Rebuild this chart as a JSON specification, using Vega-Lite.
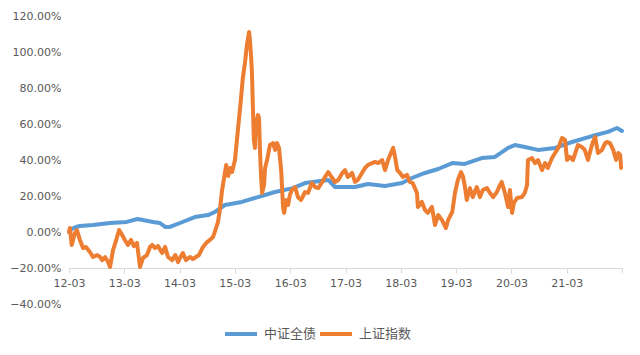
{
  "$schema": "https://vega.github.io/schema/vega-lite/v6.json",
  "width": 553,
  "height": 288,
  "autosize": "none",
  "padding": {"left": 69, "top": 16, "right": 18, "bottom": 51},
  "background": "white",
  "config": {"view": {"stroke": null}},
  "data": {"values": [
    {"s":"中证全债","d":"2012-03-01","v":0},
    {"s":"中证全债","d":"2012-03-19","v":0.017},
    {"s":"中证全债","d":"2012-04-15","v":0.028},
    {"s":"中证全债","d":"2012-05-12","v":0.033},
    {"s":"中证全债","d":"2012-08-07","v":0.039},
    {"s":"中证全债","d":"2012-11-27","v":0.05},
    {"s":"中证全债","d":"2013-03-17","v":0.056},
    {"s":"中证全债","d":"2013-05-28","v":0.072},
    {"s":"中证全债","d":"2013-09-07","v":0.056},
    {"s":"中证全债","d":"2013-10-22","v":0.05},
    {"s":"中证全债","d":"2013-11-26","v":0.028},
    {"s":"中证全债","d":"2013-12-27","v":0.028},
    {"s":"中证全债","d":"2014-03-04","v":0.05},
    {"s":"中证全债","d":"2014-06-10","v":0.083},
    {"s":"中证全债","d":"2014-09-05","v":0.094},
    {"s":"中证全债","d":"2014-10-20","v":0.111},
    {"s":"中证全债","d":"2014-12-25","v":0.15},
    {"s":"中证全债","d":"2015-04-16","v":0.167},
    {"s":"中证全债","d":"2015-08-01","v":0.194},
    {"s":"中证全债","d":"2015-11-21","v":0.222},
    {"s":"中证全债","d":"2016-03-18","v":0.244},
    {"s":"中证全债","d":"2016-06-07","v":0.272},
    {"s":"中证全债","d":"2016-11-07","v":0.289},
    {"s":"中证全债","d":"2016-12-22","v":0.25},
    {"s":"中证全债","d":"2017-05-03","v":0.25},
    {"s":"中证全债","d":"2017-07-27","v":0.267},
    {"s":"中证全债","d":"2017-11-17","v":0.256},
    {"s":"中证全债","d":"2018-03-09","v":0.272},
    {"s":"中证全债","d":"2018-05-13","v":0.3},
    {"s":"中证全债","d":"2018-08-08","v":0.328},
    {"s":"中证全债","d":"2018-11-03","v":0.35},
    {"s":"中证全债","d":"2019-02-04","v":0.383},
    {"s":"中证全债","d":"2019-04-27","v":0.378},
    {"s":"中证全债","d":"2019-08-18","v":0.411},
    {"s":"中证全债","d":"2019-11-13","v":0.417},
    {"s":"中证全债","d":"2020-02-08","v":0.467},
    {"s":"中证全债","d":"2020-03-23","v":0.483},
    {"s":"中证全债","d":"2020-05-28","v":0.472},
    {"s":"中证全债","d":"2020-08-23","v":0.456},
    {"s":"中证全债","d":"2020-12-14","v":0.467},
    {"s":"中证全债","d":"2021-04-05","v":0.5},
    {"s":"中证全债","d":"2021-08-15","v":0.533},
    {"s":"中证全债","d":"2021-11-28","v":0.556},
    {"s":"中证全债","d":"2022-01-27","v":0.578},
    {"s":"中证全债","d":"2022-03-01","v":0.561},
    {"s":"上证指数","d":"2012-03-01","v":0},
    {"s":"上证指数","d":"2012-03-07","v":0.022},
    {"s":"上证指数","d":"2012-03-19","v":-0.072},
    {"s":"上证指数","d":"2012-04-09","v":-0.006},
    {"s":"上证指数","d":"2012-04-22","v":0.011},
    {"s":"上证指数","d":"2012-05-12","v":-0.044},
    {"s":"上证指数","d":"2012-06-02","v":-0.089},
    {"s":"上证指数","d":"2012-06-21","v":-0.083},
    {"s":"上证指数","d":"2012-07-17","v":-0.111},
    {"s":"上证指数","d":"2012-08-07","v":-0.139},
    {"s":"上证指数","d":"2012-09-03","v":-0.128},
    {"s":"上证指数","d":"2012-09-22","v":-0.139},
    {"s":"上证指数","d":"2012-10-06","v":-0.156},
    {"s":"上证指数","d":"2012-10-25","v":-0.139},
    {"s":"上证指数","d":"2012-11-14","v":-0.167},
    {"s":"上证指数","d":"2012-11-27","v":-0.194},
    {"s":"上证指数","d":"2012-12-17","v":-0.1},
    {"s":"上证指数","d":"2013-01-07","v":-0.044},
    {"s":"上证指数","d":"2013-01-26","v":0.011},
    {"s":"上证指数","d":"2013-02-15","v":-0.017},
    {"s":"上证指数","d":"2013-03-05","v":-0.044},
    {"s":"上证指数","d":"2013-03-25","v":-0.072},
    {"s":"上证指数","d":"2013-04-14","v":-0.044},
    {"s":"上证指数","d":"2013-05-04","v":-0.078},
    {"s":"上证指数","d":"2013-05-24","v":-0.061},
    {"s":"上证指数","d":"2013-06-13","v":-0.194},
    {"s":"上证指数","d":"2013-07-03","v":-0.144},
    {"s":"上证指数","d":"2013-07-29","v":-0.128},
    {"s":"上证指数","d":"2013-08-18","v":-0.083},
    {"s":"上证指数","d":"2013-09-01","v":-0.072},
    {"s":"上证指数","d":"2013-09-20","v":-0.089},
    {"s":"上证指数","d":"2013-10-10","v":-0.078},
    {"s":"上证指数","d":"2013-11-06","v":-0.117},
    {"s":"上证指数","d":"2013-11-26","v":-0.083},
    {"s":"上证指数","d":"2013-12-15","v":-0.139},
    {"s":"上证指数","d":"2014-01-11","v":-0.156},
    {"s":"上证指数","d":"2014-02-01","v":-0.128},
    {"s":"上证指数","d":"2014-02-19","v":-0.167},
    {"s":"上证指数","d":"2014-03-04","v":-0.144},
    {"s":"上证指数","d":"2014-03-23","v":-0.117},
    {"s":"上证指数","d":"2014-04-12","v":-0.156},
    {"s":"上证指数","d":"2014-05-09","v":-0.139},
    {"s":"上证指数","d":"2014-05-28","v":-0.15},
    {"s":"上证指数","d":"2014-06-17","v":-0.139},
    {"s":"上证指数","d":"2014-07-07","v":-0.128},
    {"s":"上证指数","d":"2014-08-03","v":-0.083},
    {"s":"上证指数","d":"2014-08-30","v":-0.056},
    {"s":"上证指数","d":"2014-09-18","v":-0.044},
    {"s":"上证指数","d":"2014-10-08","v":-0.028},
    {"s":"上证指数","d":"2014-10-28","v":0.022},
    {"s":"上证指数","d":"2014-11-10","v":0.056},
    {"s":"上证指数","d":"2014-11-24","v":0.133},
    {"s":"上证指数","d":"2014-12-07","v":0.233},
    {"s":"上证指数","d":"2014-12-20","v":0.3},
    {"s":"上证指数","d":"2015-01-03","v":0.372},
    {"s":"上证指数","d":"2015-01-16","v":0.311},
    {"s":"上证指数","d":"2015-01-29","v":0.356},
    {"s":"上证指数","d":"2015-02-11","v":0.333},
    {"s":"上证指数","d":"2015-03-02","v":0.4},
    {"s":"上证指数","d":"2015-03-15","v":0.511},
    {"s":"上证指数","d":"2015-03-28","v":0.622},
    {"s":"上证指数","d":"2015-04-10","v":0.733},
    {"s":"上证指数","d":"2015-04-23","v":0.856},
    {"s":"上证指数","d":"2015-05-07","v":0.939},
    {"s":"上证指数","d":"2015-05-20","v":1.039},
    {"s":"上证指数","d":"2015-06-03","v":1.111},
    {"s":"上证指数","d":"2015-06-09","v":1.067},
    {"s":"上证指数","d":"2015-06-16","v":0.983},
    {"s":"上证指数","d":"2015-06-22","v":0.889},
    {"s":"上证指数","d":"2015-06-29","v":0.678},
    {"s":"上证指数","d":"2015-07-05","v":0.511},
    {"s":"上证指数","d":"2015-07-12","v":0.467},
    {"s":"上证指数","d":"2015-07-18","v":0.594},
    {"s":"上证指数","d":"2015-08-01","v":0.65},
    {"s":"上证指数","d":"2015-08-08","v":0.633},
    {"s":"上证指数","d":"2015-08-14","v":0.456},
    {"s":"上证指数","d":"2015-08-21","v":0.317},
    {"s":"上证指数","d":"2015-08-28","v":0.217},
    {"s":"上证指数","d":"2015-09-10","v":0.261},
    {"s":"上证指数","d":"2015-09-17","v":0.356},
    {"s":"上证指数","d":"2015-09-30","v":0.4},
    {"s":"上证指数","d":"2015-10-19","v":0.483},
    {"s":"上证指数","d":"2015-11-09","v":0.494},
    {"s":"上证指数","d":"2015-11-22","v":0.456},
    {"s":"上证指数","d":"2015-12-05","v":0.494},
    {"s":"上证指数","d":"2015-12-18","v":0.467},
    {"s":"上证指数","d":"2016-01-01","v":0.344},
    {"s":"上证指数","d":"2016-01-14","v":0.133},
    {"s":"上证指数","d":"2016-01-21","v":0.106},
    {"s":"上证指数","d":"2016-02-03","v":0.178},
    {"s":"上证指数","d":"2016-02-16","v":0.15},
    {"s":"上证指数","d":"2016-02-28","v":0.206},
    {"s":"上证指数","d":"2016-03-12","v":0.233},
    {"s":"上证指数","d":"2016-04-02","v":0.25},
    {"s":"上证指数","d":"2016-04-21","v":0.194},
    {"s":"上证指数","d":"2016-05-11","v":0.178},
    {"s":"上证指数","d":"2016-06-07","v":0.222},
    {"s":"上证指数","d":"2016-06-26","v":0.217},
    {"s":"上证指数","d":"2016-07-22","v":0.272},
    {"s":"上证指数","d":"2016-08-12","v":0.25},
    {"s":"上证指数","d":"2016-09-02","v":0.244},
    {"s":"上证指数","d":"2016-09-28","v":0.278},
    {"s":"上证指数","d":"2016-10-17","v":0.306},
    {"s":"上证指数","d":"2016-11-07","v":0.333},
    {"s":"上证指数","d":"2016-12-03","v":0.3},
    {"s":"上证指数","d":"2016-12-22","v":0.278},
    {"s":"上证指数","d":"2017-01-12","v":0.289},
    {"s":"上证指数","d":"2017-02-08","v":0.328},
    {"s":"上证指数","d":"2017-02-26","v":0.344},
    {"s":"上证指数","d":"2017-03-16","v":0.306},
    {"s":"上证指数","d":"2017-04-13","v":0.328},
    {"s":"上证指数","d":"2017-05-03","v":0.278},
    {"s":"上证指数","d":"2017-05-21","v":0.289},
    {"s":"上证指数","d":"2017-06-18","v":0.328},
    {"s":"上证指数","d":"2017-07-08","v":0.356},
    {"s":"上证指数","d":"2017-07-27","v":0.372},
    {"s":"上证指数","d":"2017-08-23","v":0.383},
    {"s":"上证指数","d":"2017-09-12","v":0.389},
    {"s":"上证指数","d":"2017-10-03","v":0.383},
    {"s":"上证指数","d":"2017-10-29","v":0.4},
    {"s":"上证指数","d":"2017-11-17","v":0.344},
    {"s":"上证指数","d":"2017-12-07","v":0.4},
    {"s":"上证指数","d":"2017-12-26","v":0.439},
    {"s":"上证指数","d":"2018-01-10","v":0.467},
    {"s":"上证指数","d":"2018-01-22","v":0.417},
    {"s":"上证指数","d":"2018-02-06","v":0.344},
    {"s":"上证指数","d":"2018-02-24","v":0.328},
    {"s":"上证指数","d":"2018-03-15","v":0.306},
    {"s":"上证指数","d":"2018-04-11","v":0.317},
    {"s":"上证指数","d":"2018-04-30","v":0.278},
    {"s":"上证指数","d":"2018-05-19","v":0.272},
    {"s":"上证指数","d":"2018-06-16","v":0.217},
    {"s":"上证指数","d":"2018-06-22","v":0.139},
    {"s":"上证指数","d":"2018-07-18","v":0.167},
    {"s":"上证指数","d":"2018-08-08","v":0.122},
    {"s":"上证指数","d":"2018-08-27","v":0.106},
    {"s":"上证指数","d":"2018-09-23","v":0.139},
    {"s":"上证指数","d":"2018-10-13","v":0.039},
    {"s":"上证指数","d":"2018-11-03","v":0.094},
    {"s":"上证指数","d":"2018-11-28","v":0.067},
    {"s":"上证指数","d":"2018-12-24","v":0.022},
    {"s":"上证指数","d":"2019-01-08","v":0.067},
    {"s":"上证指数","d":"2019-02-04","v":0.111},
    {"s":"上证指数","d":"2019-02-22","v":0.217},
    {"s":"上证指数","d":"2019-03-13","v":0.289},
    {"s":"上证指数","d":"2019-04-03","v":0.333},
    {"s":"上证指数","d":"2019-04-15","v":0.311},
    {"s":"上证指数","d":"2019-04-27","v":0.261},
    {"s":"上证指数","d":"2019-05-11","v":0.178},
    {"s":"上证指数","d":"2019-06-01","v":0.244},
    {"s":"上证指数","d":"2019-06-20","v":0.194},
    {"s":"上证指数","d":"2019-07-16","v":0.25},
    {"s":"上证指数","d":"2019-08-06","v":0.194},
    {"s":"上证指数","d":"2019-08-25","v":0.233},
    {"s":"上证指数","d":"2019-09-21","v":0.244},
    {"s":"上证指数","d":"2019-10-11","v":0.217},
    {"s":"上证指数","d":"2019-11-01","v":0.194},
    {"s":"上证指数","d":"2019-11-26","v":0.222},
    {"s":"上证指数","d":"2019-12-16","v":0.261},
    {"s":"上证指数","d":"2019-12-28","v":0.278},
    {"s":"上证指数","d":"2020-01-18","v":0.217},
    {"s":"上证指数","d":"2020-02-08","v":0.139},
    {"s":"上证指数","d":"2020-02-20","v":0.233},
    {"s":"上证指数","d":"2020-03-05","v":0.106},
    {"s":"上证指数","d":"2020-03-17","v":0.161},
    {"s":"上证指数","d":"2020-04-07","v":0.189},
    {"s":"上证指数","d":"2020-05-09","v":0.194},
    {"s":"上证指数","d":"2020-05-28","v":0.217},
    {"s":"上证指数","d":"2020-06-12","v":0.261},
    {"s":"上证指数","d":"2020-06-18","v":0.4},
    {"s":"上证指数","d":"2020-07-14","v":0.411},
    {"s":"上证指数","d":"2020-08-04","v":0.383},
    {"s":"上证指数","d":"2020-08-23","v":0.4},
    {"s":"上证指数","d":"2020-09-19","v":0.344},
    {"s":"上证指数","d":"2020-10-09","v":0.383},
    {"s":"上证指数","d":"2020-10-27","v":0.356},
    {"s":"上证指数","d":"2020-11-24","v":0.411},
    {"s":"上证指数","d":"2020-12-14","v":0.439},
    {"s":"上证指数","d":"2021-01-04","v":0.467},
    {"s":"上证指数","d":"2021-01-29","v":0.522},
    {"s":"上证指数","d":"2021-02-18","v":0.511},
    {"s":"上证指数","d":"2021-03-03","v":0.4},
    {"s":"上证指数","d":"2021-03-21","v":0.417},
    {"s":"上证指数","d":"2021-04-11","v":0.4},
    {"s":"上证指数","d":"2021-05-14","v":0.483},
    {"s":"上证指数","d":"2021-06-10","v":0.472},
    {"s":"上证指数","d":"2021-06-28","v":0.456},
    {"s":"上证指数","d":"2021-07-19","v":0.4},
    {"s":"上证指数","d":"2021-08-09","v":0.467},
    {"s":"上证指数","d":"2021-08-21","v":0.5},
    {"s":"上证指数","d":"2021-09-05","v":0.528},
    {"s":"上证指数","d":"2021-09-23","v":0.439},
    {"s":"上证指数","d":"2021-10-20","v":0.456},
    {"s":"上证指数","d":"2021-11-10","v":0.494},
    {"s":"上证指数","d":"2021-11-22","v":0.5},
    {"s":"上证指数","d":"2021-12-12","v":0.494},
    {"s":"上证指数","d":"2022-01-02","v":0.456},
    {"s":"上证指数","d":"2022-01-21","v":0.4},
    {"s":"上证指数","d":"2022-02-05","v":0.439},
    {"s":"上证指数","d":"2022-02-17","v":0.428},
    {"s":"上证指数","d":"2022-02-23","v":0.356}
  ]},
  "mark": {"type": "line", "strokeWidth": 4, "strokeJoin": "round", "strokeCap": "round", "clip": false},
  "encoding": {
    "x": {
      "field": "d", "type": "temporal", "title": null,
      "scale": {"domain": [{"year": 2012, "month": 3, "date": 1}, {"year": 2022, "month": 3, "date": 1}], "nice": false},
      "axis": {
        "offset": -36,
        "values": [
          {"year": 2012, "month": 3, "date": 1}, {"year": 2013, "month": 3, "date": 1},
          {"year": 2014, "month": 3, "date": 1}, {"year": 2015, "month": 3, "date": 1},
          {"year": 2016, "month": 3, "date": 1}, {"year": 2017, "month": 3, "date": 1},
          {"year": 2018, "month": 3, "date": 1}, {"year": 2019, "month": 3, "date": 1},
          {"year": 2020, "month": 3, "date": 1}, {"year": 2021, "month": 3, "date": 1},
          {"year": 2022, "month": 3, "date": 1}
        ],
        "labelExpr": "year(datum.value) >= 2022 ? '' : timeFormat(datum.value, '%y-%m')",
        "labelOverlap": false,
        "labelFlush": false,
        "grid": false,
        "domainColor": "#d9d9d9",
        "domainWidth": 1,
        "tickColor": "#d9d9d9",
        "tickSize": 5,
        "labelPadding": 4,
        "labelFont": "DejaVu Sans",
        "labelFontSize": 11,
        "labelColor": "#595959"
      }
    },
    "y": {
      "field": "v", "type": "quantitative", "title": null,
      "scale": {"domain": [-0.4, 1.2], "nice": false, "zero": false},
      "axis": {
        "values": [-0.4, -0.2, 0, 0.2, 0.4, 0.6, 0.8, 1.0, 1.2],
        "format": ".2%",
        "grid": false,
        "domain": false,
        "ticks": false,
        "tickSize": 0,
        "labelPadding": 8,
        "labelFont": "DejaVu Sans",
        "labelFontSize": 11,
        "labelColor": "#595959"
      }
    },
    "color": {
      "field": "s", "type": "nominal", "title": null,
      "scale": {"domain": ["中证全债", "上证指数"], "range": ["#5B9BD5", "#ED7D31"]},
      "legend": {
        "orient": "none",
        "legendX": 154,
        "legendY": 300,
        "direction": "horizontal",
        "symbolType": "stroke",
        "symbolSize": 1024,
        "symbolStrokeWidth": 4,
        "labelFont": "Noto Sans CJK SC",
        "labelFontSize": 13,
        "labelColor": "#595959",
        "labelOffset": 5,
        "columnPadding": -5
      }
    }
  }
}
